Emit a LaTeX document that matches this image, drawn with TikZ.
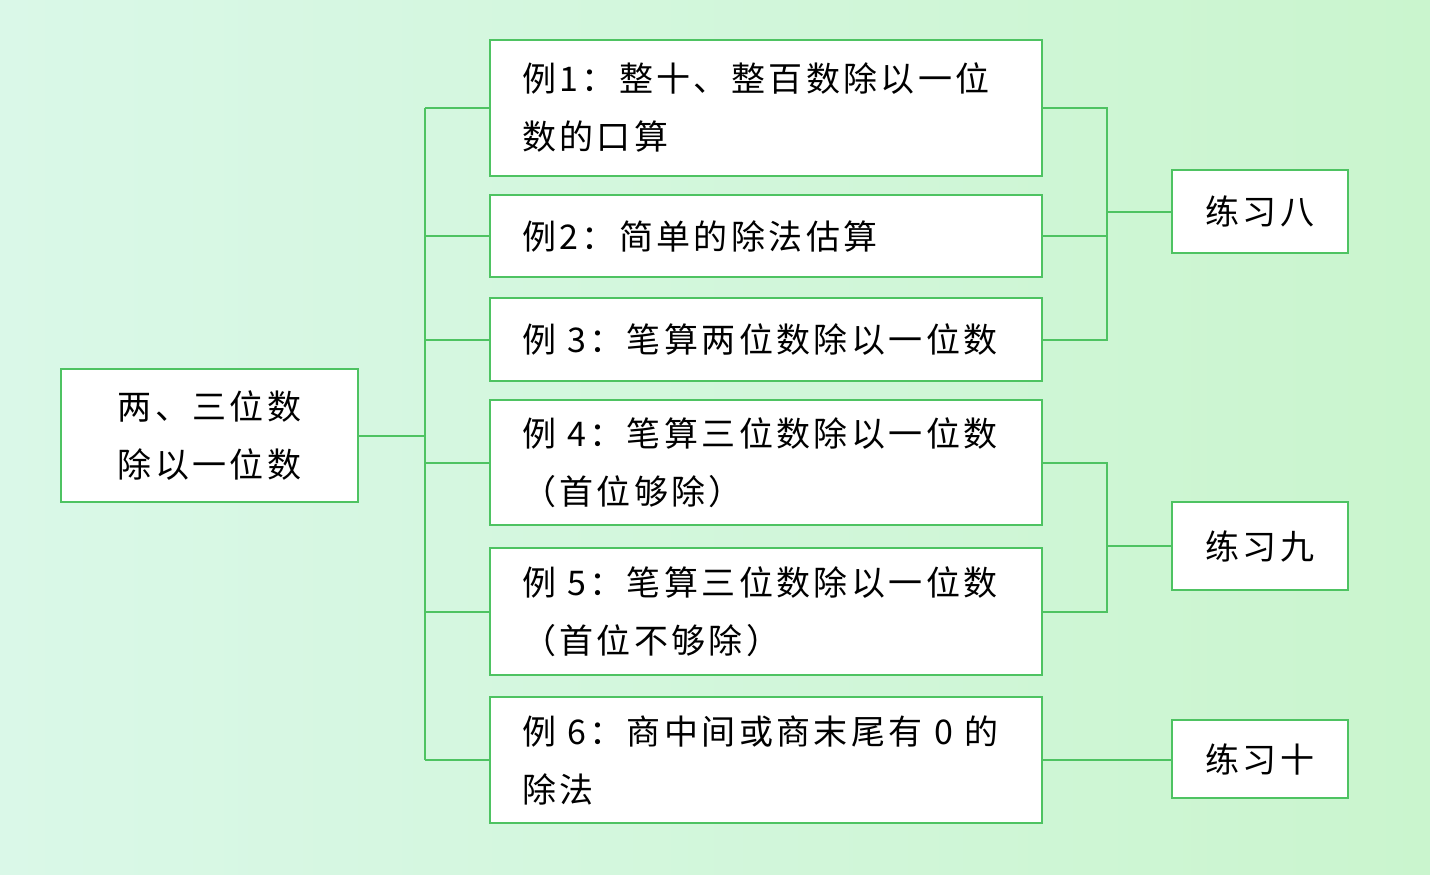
\documentclass[tikz,border=0pt]{standalone}
\usepackage{fontspec}
\setmainfont{Noto Sans CJK SC}[LetterSpace=10]
\definecolor{bgl}{RGB}{218,248,232}
\definecolor{bgr}{RGB}{202,245,206}
\definecolor{ln}{RGB}{78,195,98}
\begin{document}
\begin{tikzpicture}[x=1pt,y=-1pt,
  boxbase/.style={draw=ln,line width=2pt,fill=white,inner sep=0pt,
    font=\fontsize{34}{58}\selectfont},
  ebox/.style={boxbase,minimum width=552pt,text width=488pt,align=left},
  pbox/.style={boxbase,minimum width=176pt,align=center},
  mbox/.style={boxbase,minimum width=297pt,minimum height=133pt,align=center},
  conn/.style={draw=ln,line width=2pt}]
\fill[left color=bgl,right color=bgr] (0,0) rectangle (1430,875);
\useasboundingbox (0,0) rectangle (1430,875);

\node[mbox] (main) at (209.5,435.5) {两、三位数\\除以一位数};

\node[ebox,minimum height=136pt] (e1) at (766,108) {例1：整十、整百数除以一位\\数的口算};
\node[ebox,minimum height=82pt] (e2) at (766,236) {例2：简单的除法估算};
\node[ebox,minimum height=83pt] (e3) at (766,339.5) {例 3：笔算两位数除以一位数};
\node[ebox,minimum height=125pt] (e4) at (766,462.5) {例 4：笔算三位数除以一位数\\（首位够除）};
\node[ebox,minimum height=127pt] (e5) at (766,611.5) {例 5：笔算三位数除以一位数\\（首位不够除）};
\node[ebox,minimum height=126pt] (e6) at (766,760) {例 6：商中间或商末尾有 0 的\\除法};

\node[pbox,minimum height=83pt] (p8) at (1260,211.5) {练习八};
\node[pbox,minimum height=88pt] (p9) at (1260,546) {练习九};
\node[pbox,minimum height=78pt] (p10) at (1260,759) {练习十};

\coordinate (lb) at (425,0);
\coordinate (rb) at (1107,0);

\draw[conn] (main.east) -- (main.east -| lb);
\draw[conn] (e1.west -| lb) -- (e6.west -| lb);
\foreach \n in {e1,e2,e3,e4,e5,e6}
  \draw[conn] (\n.west) -- (\n.west -| lb);

\draw[conn] (e1.east) -- (e1.east -| rb) -- (e3.east -| rb) -- (e3.east);
\draw[conn] (e2.east) -- (e2.east -| rb);
\draw[conn] (p8.west) -- (p8.west -| rb);

\draw[conn] (e4.east) -- (e4.east -| rb) -- (e5.east -| rb) -- (e5.east);
\draw[conn] (p9.west) -- (p9.west -| rb);

\draw[conn] (e6.east) -- (e6.east -| p10.west);
\end{tikzpicture}
\end{document}
